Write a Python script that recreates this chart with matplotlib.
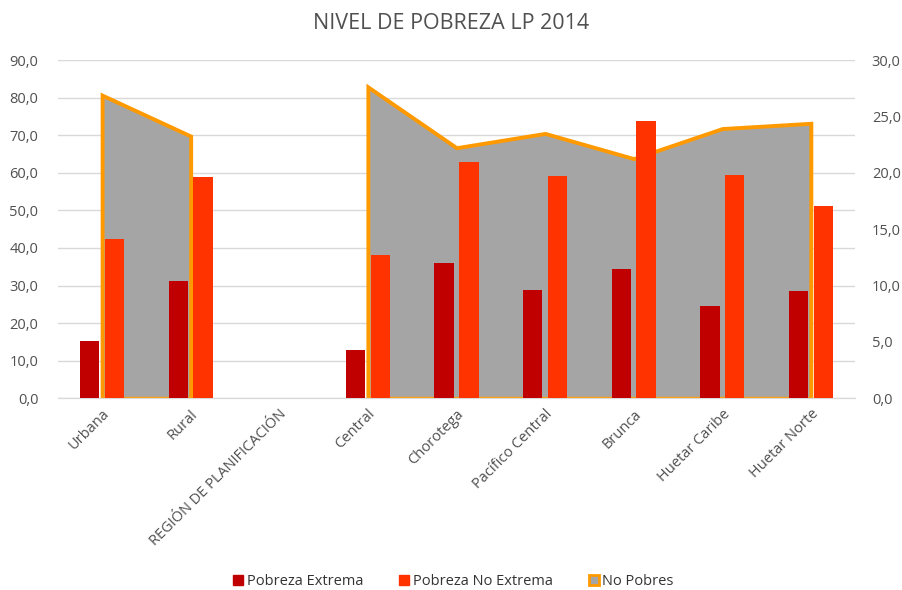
import numpy as np
import matplotlib
matplotlib.use("Agg")
import matplotlib.pyplot as plt
from matplotlib.lines import Line2D

plt.rcParams["font.family"] = ["Open Sans", "DejaVu Sans"]

categories = ["Urbana", "Rural", "REGIÓN DE PLANIFICACIÓN", "Central", "Chorotega",
              "Pacífico Central", "Brunca", "Huetar Caribe", "Huetar Norte"]
no_pobres      = [80.7, 69.8, np.nan, 82.9, 66.7, 70.5, 63.8, 71.8, 73.2]   # left axis
pob_extrema    = [5.1, 10.4, np.nan, 4.3, 12.0, 9.6, 11.5, 8.2, 9.5]       # right axis
pob_no_extrema = [14.1, 19.6, np.nan, 12.7, 21.0, 19.7, 24.6, 19.8, 17.1]   # right axis

C_EXT  = "#C00000"
C_NEXT = "#FF3300"
C_AREA = "#A5A5A5"
C_EDGE = "#FF9900"
C_TXT  = "#505050"
C_GRID = "#D9D9D9"

x = np.arange(len(categories))
fig = plt.figure(figsize=(9.03, 5.9), dpi=100)
ax = fig.add_axes([0.064, 0.325, 0.883, 0.573])

# area (No Pobres) split into contiguous segments
y = np.array(no_pobres)
valid = ~np.isnan(y)
start = None
for i in range(len(y) + 1):
    if i < len(y) and valid[i]:
        if start is None:
            start = i
    elif start is not None:
        seg = slice(start, i)
        ax.fill_between(x[seg], y[seg], 0, facecolor=C_AREA, edgecolor=C_EDGE,
                        linewidth=2.8, joinstyle="miter", zorder=2)
        start = None

ax.set_ylim(0, 90)
ax.set_yticks(np.arange(0, 91, 10))
ax.set_yticklabels([f"{v:.1f}".replace(".", ",") for v in np.arange(0, 91, 10)])
ax.set_xlim(-0.5, len(categories) - 0.5)
ax.set_xticks(x)
ax.set_xticklabels(categories, rotation=45, ha="right", rotation_mode="anchor")
ax.grid(axis="y", color=C_GRID, lw=1, zorder=0)
ax.set_axisbelow(True)

ax2 = ax.twinx()
w = 0.22
ax2.bar(x - 0.14, pob_extrema, width=w, color=C_EXT, zorder=3)
ax2.bar(x + 0.14, pob_no_extrema, width=w, color=C_NEXT, zorder=3)
ax2.set_ylim(0, 30)
ax2.set_yticks(np.arange(0, 31, 5))
ax2.set_yticklabels([f"{v:.1f}".replace(".", ",") for v in np.arange(0, 31, 5)])

for a in (ax, ax2):
    for s in ["top", "left", "right"]:
        a.spines[s].set_visible(False)
    a.spines["bottom"].set_color(C_GRID)
    a.tick_params(length=0, colors=C_TXT, labelsize=10.5)
ax.tick_params(axis="x", pad=6)
ax.tick_params(axis="y", pad=14)
ax2.tick_params(axis="y", pad=12)

fig.suptitle("NIVEL DE POBREZA LP 2014", y=0.978, fontsize=15.5, color=C_TXT)

handles = [
    Line2D([], [], marker="s", ls="", markersize=7, markerfacecolor=C_EXT, markeredgecolor=C_EXT),
    Line2D([], [], marker="s", ls="", markersize=7, markerfacecolor=C_NEXT, markeredgecolor=C_NEXT),
    Line2D([], [], marker="s", ls="", markersize=7, markerfacecolor=C_AREA, markeredgecolor=C_EDGE,
           markeredgewidth=2),
]
fig.legend(handles, ["Pobreza Extrema", "Pobreza No Extrema", "No Pobres"], loc="center",
           bbox_to_anchor=(0.5, 0.015), ncol=3, frameon=False, fontsize=10.5,
           handletextpad=0.0, handlelength=1.2, columnspacing=2.2, labelcolor="#333333")

fig.savefig("out.png", dpi=100)
